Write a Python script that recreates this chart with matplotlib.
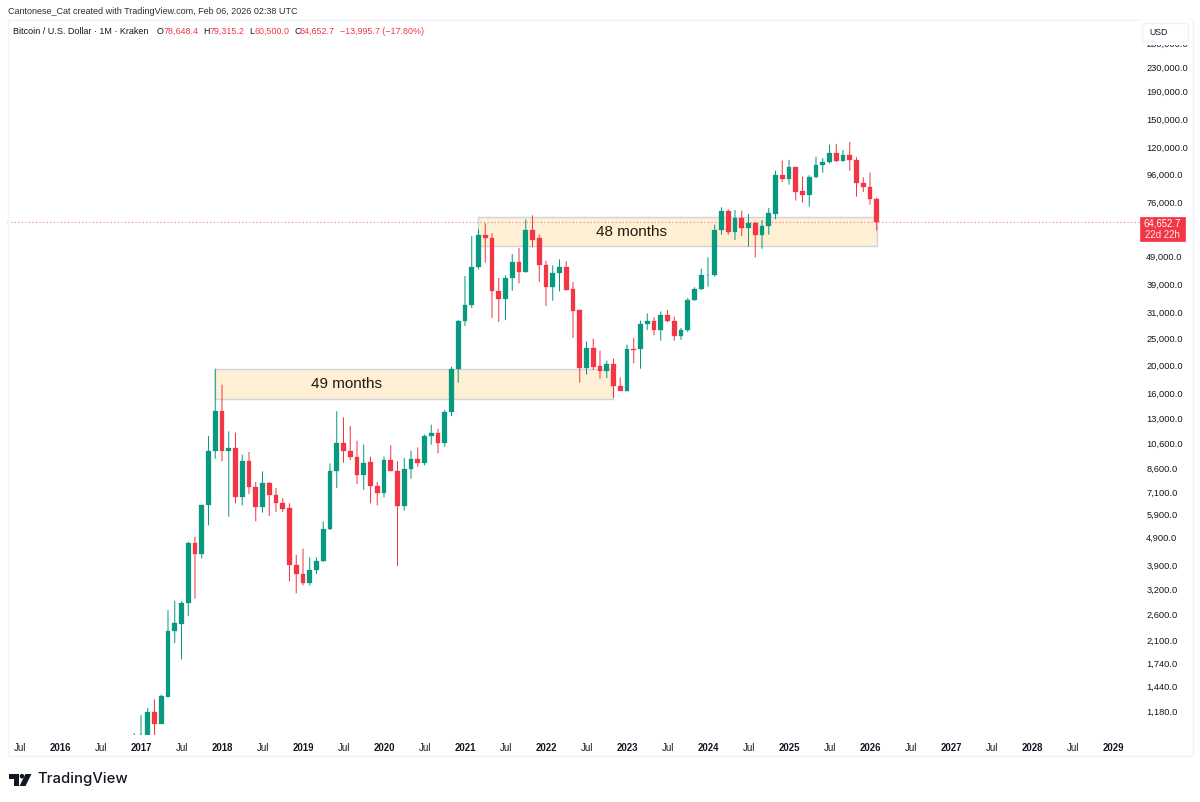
import numpy as np
import matplotlib
matplotlib.use("Agg")
import matplotlib.pyplot as plt
from matplotlib.patches import Rectangle, FancyBboxPatch, Polygon, Circle

W, H = 1200, 802

# Monthly candles, Dec 2016 .. Feb 2026  (month number 0 = Jan 2016)
first_month = 11
opens = [750,
         960, 968, 1170, 1064, 1324, 2268, 2410, 2851, 4689, 4273, 6367, 9967,
         13830, 9967, 10186, 6800, 9133, 7420, 6296, 7665, 6914, 6508, 6230, 3916,
         3628, 3361, 3747, 4045, 5232, 8460, 10641, 9914, 9500, 8186, 9082, 7462,
         7064, 9229, 8460, 6333, 8554, 9333, 8982, 11239, 11550, 10585, 13683, 19518,
         28750, 32790, 44770, 58190, 57000, 36900, 34430, 41020, 46760, 43090, 60790, 57000,
         45510, 38010, 42850, 45010, 37400, 31600, 19620, 23120, 19900, 19090, 20280, 16930,
         16290, 22870, 22870, 28140, 28920, 26790, 30220, 28920, 25500, 26790, 34250, 37390,
         41920, 42160, 60790, 70840, 59800, 67060, 61800, 64210, 58190, 62830, 69320, 95660,
         92070, 101610, 83400, 81220, 93630, 103830, 106150, 114570, 106710, 112710, 108300, 89500,
         86500, 78648.4]
highs = [985,
         1143, 1210, 1298, 1350, 2700, 2918, 2899, 4720, 4927, 6400, 11239, 19500,
         17116, 11675, 11550, 9646, 9854, 7709, 8412, 7700, 7337, 6760, 6480, 4250,
         4466, 4158, 4158, 5585, 8982, 13755, 13097, 12199, 10814, 10469, 9491, 7709,
         9491, 10412, 9133, 9384, 9967, 10243, 11363, 12330, 11932, 13906, 19800, 29070,
         41700, 57870, 61110, 64210, 59150, 41020, 41920, 49930, 52460, 66340, 68560, 58500,
         47260, 45510, 47810, 47030, 39700, 31700, 24410, 24960, 22620, 20840, 21180, 18170,
         23760, 25090, 28920, 30720, 29720, 31220, 31560, 29880, 27230, 34820, 38010, 44270,
         48600, 63500, 73200, 72020, 71610, 71220, 69310, 64910, 65980, 72790, 98860, 107300,
         107890, 102000, 94150, 95200, 110860, 109680, 122330, 123020, 117100, 125030, 110270, 93630,
         97280, 79315.2]
lows = [740,
        880, 940, 890, 1064, 1324, 2060, 1802, 2572, 2964, 4113, 5405, 9333,
        9133, 5802, 6473, 6367, 6990, 5585, 5999, 5833, 6030, 6030, 3416, 3096,
        3307, 3300, 3628, 4000, 5200, 7337, 9030, 9229, 7583, 7220, 6473, 6367,
        6800, 8412, 3873, 6096, 7923, 8740, 8838, 10469, 9750, 10298, 13240, 17400,
        27680, 32070, 44000, 46510, 29540, 28600, 29070, 36980, 39250, 42880, 52750, 39700,
        32620, 34070, 36770, 37000, 25090, 17400, 18580, 19300, 17980, 18080, 15340, 16250,
        16200, 20390, 19518, 26790, 25650, 24560, 28600, 24560, 24690, 26350, 34000, 37200,
        38200, 41500, 58500, 58500, 56020, 57870, 53040, 48600, 52150, 58500, 66360, 90080,
        88160, 77330, 76040, 73630, 92900, 97280, 105000, 106150, 106700, 98860, 79890, 82990,
        74830, 60500]
closes = [965,
          968, 1170, 1064, 1339, 2268, 2420, 2851, 4689, 4273, 6367, 9967, 13830,
          9967, 10186, 6800, 9133, 7380, 6296, 7665, 6914, 6508, 6196, 3916, 3628,
          3361, 3747, 4045, 5232, 8460, 10641, 9914, 9437, 8186, 9030, 7462, 7064,
          9229, 8412, 6333, 8554, 9333, 8982, 11239, 11550, 10585, 13683, 19518, 28750,
          32790, 44770, 58190, 56910, 36770, 34430, 41020, 46760, 43090, 60790, 56020, 45510,
          38010, 42850, 45010, 37180, 31400, 19620, 23120, 19730, 19090, 20280, 16930, 16290,
          22870, 22800, 28140, 28920, 26790, 30220, 28750, 25500, 26790, 34250, 37390, 41920,
          42160, 60790, 70840, 59800, 67060, 61800, 64210, 58190, 62830, 69690, 95660, 92070,
          101610, 82990, 81220, 93630, 103830, 106150, 114570, 106710, 112710, 107890, 89110, 86250,
          78648.4, 64652.7]

last_close = 64652.7

price_ticks = [280000, 230000, 190000, 150000, 120000, 96000, 76000, 49000, 39000, 31000,
               25000, 20000, 16000, 13000, 10600, 8600, 7100, 5900, 4900, 3900, 3200,
               2600, 2100, 1740, 1440, 1180]

time_ticks = [-6, 0, 6, 12, 18, 24, 30, 36, 42, 48, 54, 60, 66, 72, 78, 84, 90, 96, 102,
              108, 114, 120, 126, 132, 138, 144, 150, 156]
time_labels = ["Jul", "2016", "Jul", "2017", "Jul", "2018", "Jul", "2019", "Jul", "2020",
               "Jul", "2021", "Jul", "2022", "Jul", "2023", "Jul", "2024", "Jul", "2025",
               "Jul", "2026", "Jul", "2027", "Jul", "2028", "Jul", "2029"]

# Ranges: first month, last month, top price, bottom price, label, month of label centre
zones = [(23, 82, 19500, 15200, "49 months", 42.4),
         (62, 121, 67450, 53400, "48 months", 84.6)]

GREEN = "#089981"
RED = "#F23645"
TEXT = "#131722"
plt.rcParams["font.family"] = ["Liberation Sans", "DejaVu Sans"]


def fx(px):
    return px / W


def fy(py):
    return 1 - py / H


fig = plt.figure(figsize=(W / 100, H / 100), dpi=100, facecolor="white")
L, R, T, B = 7, 1140, 20, 735
ax = fig.add_axes([fx(L), fy(B), fx(R - L), (B - T) / H])
ax.set_yscale("log")
ax.set_xlim(-7.85, 160)
ax.set_ylim(970, 339700)
for s in ax.spines.values():
    s.set_visible(False)

# Zones
for m0, m1, top, bot, label, lm in zones:
    ax.add_patch(Rectangle((m0, bot), m1 - m0, top - bot, facecolor="#FFEFD5",
                           edgecolor="#D1D4DC", lw=1.0, zorder=1))
    ax.text(lm, np.sqrt(top * bot), label, ha="center", va="center",
            fontsize=11, color="#1f1a10", zorder=4)

# Last price line
ax.axhline(last_close, color="#E0808C", lw=0.8, ls=(0, (1, 2.2)), zorder=2)

# Candles
n = len(opens)
months = np.arange(first_month, first_month + n)
o, h, l, c = map(np.array, (opens, highs, lows, closes))
col = np.where(c >= o, GREEN, RED)
wick = ax.vlines(months, l, h, colors=col, lw=0.72, zorder=3)
wick.set_snap(False)
ax.bar(months, np.abs(c - o), bottom=np.minimum(o, c), width=0.68,
       color=col, edgecolor=col, linewidth=0.2, zorder=3.2)

# Axes text
ax.yaxis.tick_right()
ax.set_yticks(price_ticks)
ax.set_yticklabels([f"{p:,.1f}" for p in price_ticks], fontsize=6.7, color=TEXT)
ax.minorticks_off()
ax.tick_params(axis="y", length=0, pad=4.5, which="both")
ax.set_xticks(time_ticks)
ax.set_xticklabels(time_labels, fontsize=6.9, color=TEXT)
for t, lab in zip(ax.get_xticklabels(), time_labels):
    if lab != "Jul":
        t.set_fontweight("bold")
ax.tick_params(axis="x", length=0, pad=5.5)

# Overlay in figure pixels
ov = fig.add_axes([0, 0, 1, 1], facecolor="none", zorder=10)
ov.set_xlim(0, W)
ov.set_ylim(H, 0)
ov.axis("off")

# Outer frame
ov.add_patch(Rectangle((7.5, 19.5), 1185, 736.5, fill=False, edgecolor="#F0F3FA", lw=1))

# Currency button hides the clipped top tick
ov.add_patch(Rectangle((1141, 20), 50, 24.5, facecolor="white", edgecolor="none"))
ov.add_patch(FancyBboxPatch((1142.5, 23.5), 46, 18.5, boxstyle="round,pad=0,rounding_size=3",
                            facecolor="white", edgecolor="#F0F3FA", lw=1))
ov.text(1149, 32.5, "USD", fontsize=6.3, color=TEXT, va="center", ha="left")

# Price tag
ov.add_patch(Rectangle((1139.5, 217), 45, 24, facecolor=RED, edgecolor=RED, lw=0.5))
ov.text(1162, 223.5, "64,652.7", fontsize=6.9, color="white", ha="center", va="center")
ov.text(1162, 234.5, "22d 22h", fontsize=6.9, color="white", ha="center", va="center", alpha=0.9)

# Headers
ov.text(7.5, 11, "Cantonese_Cat created with TradingView.com, Feb 06, 2026 02:38 UTC",
        fontsize=6.5, color="#2a2e39", va="center", ha="left")
ov.text(13, 31.5, "Bitcoin / U.S. Dollar · 1M · Kraken", fontsize=6.5, color=TEXT,
        va="center", ha="left")
xpos = [(157, "O", TEXT), (163, "78,648.4", RED), (203, "H", TEXT), (209.5, "79,315.2", RED),
        (249.5, "L", TEXT), (254.5, "60,500.0", RED), (294.5, "C", TEXT), (300, "64,652.7", RED),
        (340, "−13,995.7 (−17.80%)", RED)]
for x, s, colr in xpos:
    ov.text(x, 31.5, s, fontsize=6.4, color=colr, va="center", ha="left")

# TradingView logo
ov.add_patch(Polygon([(9, 774), (18.5, 774), (18.5, 786), (13.5, 786), (13.5, 779), (9, 779)],
                     facecolor="#131722", edgecolor="none"))
ov.add_patch(Circle((22, 776.2), 2.3, facecolor="#131722", edgecolor="none"))
ov.add_patch(Polygon([(25.5, 774), (31.5, 774), (25.5, 786), (19.5, 786)],
                     facecolor="#131722", edgecolor="none"))
ov.text(37, 779.5, "TradingView", fontsize=10.7, color="#131722", fontweight="medium",
        family=["Inter", "DejaVu Sans"], va="center", ha="left")

fig.savefig("out.png", dpi=100, facecolor="white")
